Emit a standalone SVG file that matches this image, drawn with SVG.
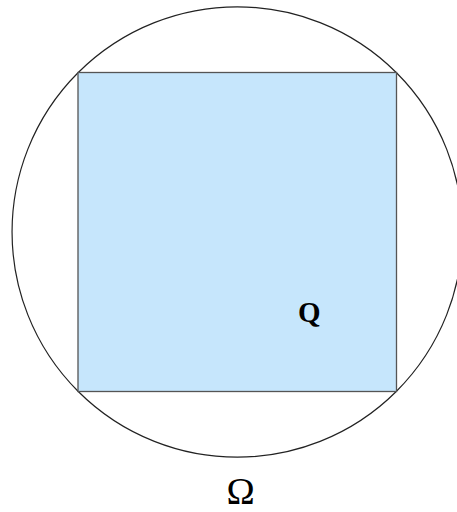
<svg xmlns="http://www.w3.org/2000/svg" width="457" height="512" viewBox="0 0 457 512">
<style>
.lbl{font-family:"Liberation Serif","DejaVu Serif",serif;fill:#000}
</style>
<rect width="457" height="512" fill="#fff"/>
<g id="omega-circle">
<circle cx="237.25" cy="232" r="225.2" fill="none" stroke="#222" stroke-width="1.2"/>
</g>
<g id="square-Q">
<rect x="78" y="72.5" width="318.5" height="319" fill="#c6e6fc" stroke="#555" stroke-width="1.3"/>
<text class="lbl" x="298" y="322" font-size="29" font-weight="bold">Q</text>
</g>
<g id="label-omega">
<text class="lbl" x="240.5" y="504" font-size="38" text-anchor="middle">Ω</text>
</g>
</svg>
